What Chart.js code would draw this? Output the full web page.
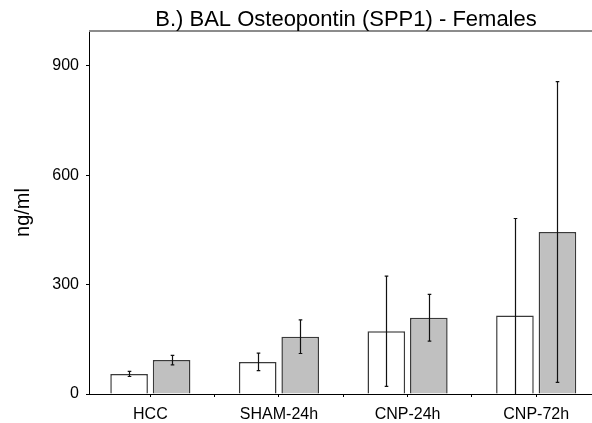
<!DOCTYPE html>
<html>
<head>
<meta charset="utf-8">
<script src="https://cdn.jsdelivr.net/npm/chart.js@4.4.1/dist/chart.umd.min.js"></script>
<style>
  html, body { margin: 0; padding: 0; background: #fff; overflow: hidden; }
  #wrap { width: 592px; height: 423px; overflow: hidden; }
  canvas { display: block; }
</style>
</head>
<body>
<div id="wrap"><canvas id="c" width="592" height="423"></canvas></div>
<script>
// Group labels along the x axis
const categories = ['HCC', 'SHAM-24h', 'CNP-24h', 'CNP-72h'];
// Left (white) bar of each group: mean and error
const whiteMeans  = [55, 88, 172, 215];
const whiteErrors = [7, 24, 151, 266];
// Right (grey) bar of each group: mean and error
const greyMeans   = [93, 157, 209, 444];
const greyErrors  = [13, 46, 64, 412];
// Value axis tick labels
const yTicks = [0, 300, 600, 900];
const chartTitle = 'B.) BAL Osteopontin (SPP1) - Females';
const yLabel = 'ng/ml';

const FONT = '"Liberation Sans", Arial, Helvetica, sans-serif';
Chart.defaults.font.family = FONT;
Chart.defaults.color = '#000';

// Vertical error bars with small caps, clipped at the value axis
const errorBars = {
  id: 'errorBars',
  afterDatasetsDraw(chart) {
    const { ctx, scales: { y } } = chart;
    ctx.save();
    ctx.strokeStyle = '#111';
    ctx.lineWidth = 1.2;
    chart.data.datasets.forEach((ds, di) => {
      const meta = chart.getDatasetMeta(di);
      meta.data.forEach((bar, i) => {
        const v = ds.data[i].y, e = ds.errors[i];
        const top = y.getPixelForValue(v + e);
        const lowVal = v - e;
        const bot = y.getPixelForValue(Math.max(lowVal, 0));
        const x = Math.round(bar.x) + 0.5;
        ctx.beginPath();
        ctx.moveTo(x, top);
        ctx.lineTo(x, bot);
        ctx.moveTo(x - 1.8, top);
        ctx.lineTo(x + 1.8, top);
        if (lowVal > 0) {
          ctx.moveTo(x - 1.8, bot);
          ctx.lineTo(x + 1.8, bot);
        }
        ctx.stroke();
      });
    });
    ctx.restore();
  }
};

// Heading over the plot, plus the grey frame line along its top
const plotFrame = {
  id: 'plotFrame',
  afterDraw(chart) {
    const { ctx, chartArea: a } = chart;
    ctx.save();
    ctx.strokeStyle = '#8c8c8c';
    ctx.lineWidth = 2;
    ctx.beginPath();
    ctx.moveTo(a.left, a.top);
    ctx.lineTo(a.right, a.top);
    ctx.stroke();
    ctx.font = '22px ' + FONT;
    ctx.fillStyle = '#000';
    ctx.textAlign = 'center';
    ctx.textBaseline = 'alphabetic';
    ctx.fillText(chartTitle, a.left + 257, 26);
    ctx.restore();
  }
};

const X_MIN = -0.477, X_MAX = 3.434;
const xTickValues = [];
categories.forEach((c, i) => { xTickValues.push(i, i + 0.5); });

new Chart(document.getElementById('c'), {
  type: 'bar',
  data: {
    datasets: [
      {
        data: categories.map((c, i) => ({ x: i, y: whiteMeans[i] })),
        errors: whiteErrors,
        backgroundColor: '#ffffff',
        borderColor: '#3a3a3a',
        borderWidth: 1.5
      },
      {
        data: categories.map((c, i) => ({ x: i, y: greyMeans[i] })),
        errors: greyErrors,
        backgroundColor: '#c0c0c0',
        borderColor: '#3a3a3a',
        borderWidth: 1.5
      }
    ]
  },
  options: {
    responsive: false,
    animation: false,
    devicePixelRatio: 1,
    categoryPercentage: 1.322,
    barPercentage: 0.885,
    layout: { padding: { top: 31, left: 0, right: 0, bottom: 0 } },
    plugins: { legend: { display: false }, tooltip: { enabled: false }, title: { display: false } },
    scales: {
      x: {
        type: 'linear',
        offset: false,
        min: X_MIN,
        max: X_MAX,
        afterBuildTicks: s => { s.ticks = xTickValues.filter(v => v <= X_MAX).map(v => ({ value: v })); },
        afterFit: s => { s.height = 29; },
        ticks: {
          autoSkip: false,
          maxRotation: 0,
          font: { size: 16 },
          color: '#000',
          padding: 8,
          callback: v => Number.isInteger(v) ? categories[v] : ''
        },
        grid: { offset: false, drawOnChartArea: false, color: '#000', tickLength: 3 },
        border: { color: '#000', width: 1 }
      },
      y: {
        min: 0,
        max: 995,
        afterBuildTicks: s => { s.ticks = yTicks.map(v => ({ value: v })); },
        afterFit: s => { s.width = 89; },
        ticks: { font: { size: 16 }, color: '#000', padding: 7 },
        grid: { drawOnChartArea: false, color: '#000', tickLength: 3 },
        border: { color: '#000', width: 1 },
        title: { display: true, text: yLabel, font: { size: 20 }, color: '#000', padding: { top: 11, bottom: 0 } }
      }
    }
  },
  plugins: [errorBars, plotFrame]
});
</script>
</body>
</html>
